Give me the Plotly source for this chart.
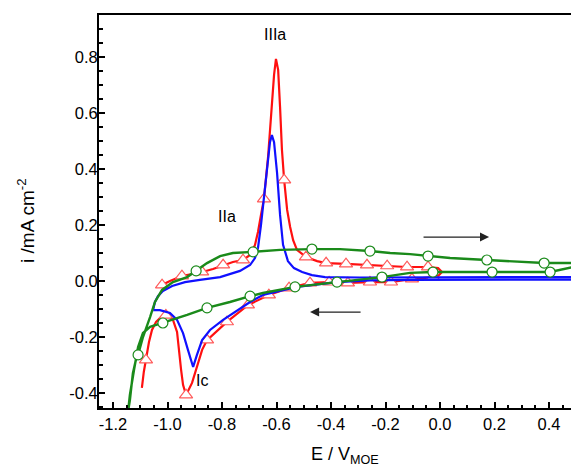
import plotly.graph_objects as go

# ---------------- data ----------------
x_ticks = [-1.2, -1.0, -0.8, -0.6, -0.4, -0.2, 0.0, 0.2, 0.4]
x_labels = ["-1.2", "-1.0", "-0.8", "-0.6", "-0.4", "-0.2", "0.0", "0.2", "0.4"]
y_ticks = [-0.4, -0.2, 0.0, 0.2, 0.4, 0.6, 0.8]
y_labels = ["-0.4", "-0.2", "0.0", "0.2", "0.4", "0.6", "0.8"]

# red curve (triangles)
red_x = [-1.028, -0.991, -0.947, -0.910, -0.873, -0.833, -0.796, -0.760, -0.723, -0.697,
         -0.679, -0.668, -0.657, -0.646, -0.631, -0.624, -0.617, -0.609, -0.602, -0.594,
         -0.587, -0.580, -0.572, -0.561, -0.550, -0.539, -0.525, -0.506, -0.492, -0.451,
         -0.418, -0.345, -0.268, -0.194, -0.121, -0.044, -0.007, 0.007, -0.007,
         -0.026, -0.103, -0.180, -0.257, -0.338, -0.407, -0.477, -0.554, -0.628, -0.705,
         -0.782, -0.855, -0.873, -0.892, -0.910, -0.932, -0.943, -0.950, -0.958, -0.965,
         -0.980, -0.997, -1.006, -1.024, -1.042, -1.057, -1.068, -1.079, -1.087, -1.094]
red_y = [-0.018, 0.000, 0.018, 0.025, 0.032, 0.043, 0.057, 0.068, 0.075, 0.093,
         0.129, 0.175, 0.236, 0.293, 0.443, 0.539, 0.621, 0.736, 0.793, 0.754,
         0.621, 0.468, 0.361, 0.254, 0.193, 0.146, 0.111, 0.096, 0.086, 0.071,
         0.064, 0.061, 0.057, 0.054, 0.050, 0.050, 0.046, 0.032, 0.018,
         0.014, 0.007, -0.004, -0.004, -0.007, -0.004, -0.007, -0.025, -0.050, -0.086,
         -0.146, -0.211, -0.246, -0.307, -0.364, -0.407, -0.371, -0.318, -0.250, -0.182,
         -0.139, -0.122, -0.122, -0.129, -0.146, -0.175, -0.218, -0.282, -0.325, -0.382]
red_mx = [-1.020, -0.947, -0.873, -0.796, -0.723, -0.646, -0.572, -0.492, -0.418, -0.345,
          -0.268, -0.194, -0.121, -0.044, -0.026, -0.103, -0.180, -0.257, -0.338, -0.407,
          -0.477, -0.554, -0.628, -0.705, -0.782, -0.855, -0.932, -1.006, -1.079]
red_my = [-0.014, 0.018, 0.032, 0.057, 0.075, 0.293, 0.361, 0.086, 0.064, 0.061,
          0.057, 0.054, 0.050, 0.050, 0.014, 0.007, -0.004, -0.004, -0.007, -0.004,
          -0.007, -0.025, -0.050, -0.086, -0.146, -0.211, -0.407, -0.122, -0.282]

# blue curve
blue_x = [-1.053, -1.046, -1.035, -1.017, -0.983, -0.936, -0.881, -0.807, -0.734, -0.697,
          -0.679, -0.668, -0.657, -0.646, -0.635, -0.624, -0.617, -0.609, -0.598, -0.587,
          -0.576, -0.558, -0.536, -0.506, -0.470, -0.422, -0.294, 0.000, 0.520,
          0.520, 0.037, -0.110, -0.257, -0.378, -0.525, -0.650, -0.697, -0.734, -0.796,
          -0.844, -0.873, -0.892, -0.906, -0.925, -0.943, -0.965, -0.991, -1.028, -1.053]
blue_y = [-0.104, -0.075, -0.054, -0.036, -0.018, -0.004, 0.004, 0.014, 0.036, 0.057,
          0.082, 0.118, 0.200, 0.307, 0.414, 0.496, 0.521, 0.496, 0.386, 0.236,
          0.129, 0.071, 0.046, 0.032, 0.021, 0.014, 0.0125, 0.013, 0.014,
          0.005, 0.005, 0.004, 0.002, -0.004, -0.021, -0.050, -0.075, -0.100, -0.139,
          -0.175, -0.211, -0.264, -0.307, -0.246, -0.186, -0.139, -0.114, -0.104, -0.104]

# green curve (circles)
green_x = [-1.145, -1.138, -1.127, -1.116, -1.108, -1.090, -1.064, -1.046, -1.020, -0.980,
           -0.928, -0.895, -0.855, -0.807, -0.760, -0.686, -0.587, -0.470, -0.367, -0.257,
           -0.183, -0.110, -0.044, 0.037, 0.172, 0.283, 0.382, 0.503, 0.506, 0.488,
           0.404, 0.283, 0.191, 0.073, -0.026, -0.110, -0.213, -0.378, -0.532, -0.650,
           -0.697, -0.771, -0.855, -0.928, -1.017, -1.064, -1.090, -1.108, -1.123, -1.138, -1.145]
green_y = [-0.468, -0.425, -0.329, -0.282, -0.264, -0.200, -0.129, -0.075, -0.032, -0.004,
           0.014, 0.036, 0.064, 0.089, 0.100, 0.104, 0.111, 0.114, 0.114, 0.107,
           0.100, 0.096, 0.089, 0.082, 0.075, 0.068, 0.064, 0.064, 0.057, 0.050,
           0.032, 0.032, 0.032, 0.032, 0.032, 0.029, 0.014, -0.004, -0.021, -0.043,
           -0.054, -0.075, -0.096, -0.121, -0.150, -0.164, -0.186, -0.236, -0.318, -0.407, -0.468]
green_mx = [-1.108, -0.895, -0.686, -0.470, -0.257, -0.044, 0.172, 0.382,
            0.404, 0.191, -0.026, -0.213, -0.378, -0.532, -0.697, -0.855, -1.017]
green_my = [-0.264, 0.036, 0.104, 0.114, 0.107, 0.089, 0.075, 0.064,
            0.032, 0.032, 0.032, 0.014, -0.004, -0.021, -0.054, -0.096, -0.150]

# ---------------- figure ----------------
FONT = "Liberation Sans, Arial, sans-serif"
RED = "#ff1010"
BLUE = "#1010ff"
GREEN = "#1a8a1a"

fig = go.Figure()
fig.add_trace(go.Scatter(x=red_x, y=red_y, mode="lines",
                         line=dict(color=RED, width=2.2), showlegend=False))
fig.add_trace(go.Scatter(x=red_mx, y=red_my, mode="markers",
                         marker=dict(symbol="triangle-up", size=11.5, color="white",
                                     line=dict(color="#ff5a5a", width=1.2)),
                         showlegend=False))
fig.add_trace(go.Scatter(x=blue_x, y=blue_y, mode="lines",
                         line=dict(color=BLUE, width=2.2), showlegend=False))
fig.add_trace(go.Scatter(x=green_x, y=green_y, mode="lines",
                         line=dict(color=GREEN, width=2.4), showlegend=False))
fig.add_trace(go.Scatter(x=green_mx, y=green_my, mode="markers",
                         marker=dict(symbol="circle", size=10, color="white",
                                     line=dict(color=GREEN, width=1.2)),
                         showlegend=False))

axis_common = dict(showline=True, linewidth=2, linecolor="black", showgrid=False,
                   zeroline=False, ticks="inside", ticklen=6, tickwidth=1.5,
                   tickcolor="black", tickmode="array",
                   tickfont=dict(family=FONT, size=16.5, color="black"))

fig.update_xaxes(range=[-1.2514, 0.510], tickvals=x_ticks, ticktext=x_labels,
                 mirror=True,
                 minor=dict(tickmode="linear", tick0=0, dtick=0.05, ticks="inside",
                            ticklen=3.5, tickwidth=1.5, tickcolor="black"),
                 **axis_common)
fig.update_yaxes(range=[-0.4536, 0.95], tickvals=y_ticks, ticktext=y_labels,
                 ticklabelstandoff=-4,
                 minor=dict(tickmode="linear", tick0=0, dtick=0.05, ticks="inside",
                            ticklen=3.5, tickwidth=1.5, tickcolor="black"),
                 **axis_common)

ann_font = dict(family=FONT, size=16, color="black")
annotations = [
    dict(x=-0.606, y=0.882, text="IIIa", showarrow=False, font=ann_font),
    dict(x=-0.782, y=0.229, text="IIa", showarrow=False, font=ann_font),
    dict(x=-0.873, y=-0.354, text="Ic", showarrow=False, font=ann_font),
    # sweep direction arrows
    dict(x=0.18, y=0.157, ax=-0.066, ay=0.157, axref="x", ayref="y", text="",
         showarrow=True, arrowhead=2, arrowsize=1.4, arrowwidth=1.3, arrowcolor="#222"),
    dict(x=-0.477, y=-0.111, ax=-0.286, ay=-0.111, axref="x", ayref="y", text="",
         showarrow=True, arrowhead=2, arrowsize=1.4, arrowwidth=1.3, arrowcolor="#222"),
    # axis titles
    dict(xref="paper", yref="paper", x=-0.152, y=0.476, text="i /mA cm<sup>-2</sup>",
         textangle=-90, showarrow=False, xanchor="center", yanchor="middle",
         font=dict(family=FONT, size=19, color="black")),
    dict(xref="paper", yref="paper", x=0.5125, y=-0.12, text="E / V<sub>MOE</sub>",
         showarrow=False, xanchor="center", yanchor="middle",
         font=dict(family=FONT, size=18, color="black")),
]

# the page body adds an 8 px offset, so the figure is 8 px smaller and shifted
fig.update_layout(width=571, height=462, margin=dict(l=91, r=0, t=7, b=62),
                  paper_bgcolor="white", plot_bgcolor="white",
                  annotations=annotations, font=dict(family=FONT))

fig.write_html("out.html")
